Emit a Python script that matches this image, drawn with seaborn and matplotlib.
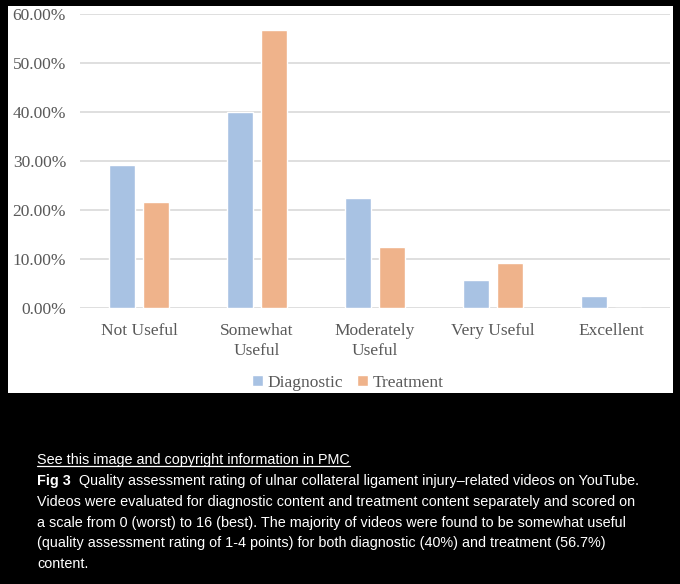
import numpy as np
import pandas as pd
import matplotlib
matplotlib.use("Agg")
import matplotlib.pyplot as plt
import seaborn as sns
from matplotlib.patches import Rectangle
from matplotlib.lines import Line2D
from matplotlib.ticker import FuncFormatter

# data (share of videos per rating)
categories = ["Not Useful", "Somewhat\nUseful", "Moderately\nUseful", "Very Useful", "Excellent"]
diagnostic = [0.292, 0.400, 0.225, 0.058, 0.025]
treatment = [0.217, 0.567, 0.125, 0.092, 0.0]
series_names = ["Diagnostic", "Treatment"]
y_ticks = [0.0, 0.1, 0.2, 0.3, 0.4, 0.5, 0.6]

caption_link = "See this image and copyright information in PMC"
caption_label = "Fig 3"
caption_lines = [
    "Quality assessment rating of ulnar collateral ligament injury\u2013related videos on YouTube.",
    "Videos were evaluated for diagnostic content and treatment content separately and scored on",
    "a scale from 0 (worst) to 16 (best). The majority of videos were found to be somewhat useful",
    "(quality assessment rating of 1-4 points) for both diagnostic (40%) and treatment (56.7%)",
    "content.",
]

df = pd.DataFrame({
    "category": categories * 2,
    "value": diagnostic + treatment,
    "series": [series_names[0]] * len(categories) + [series_names[1]] * len(categories),
})

W, H = 680, 584
BLUE = "#a8c2e3"
ORANGE = "#efb38b"
GREY = "#595959"
SERIF = "Liberation Serif"
SANS = "Liberation Sans"
CAP_SIZE = 10.4

sns.set_style("white")
fig = plt.figure(figsize=(W / 100, H / 100), dpi=100)
fig.patch.set_facecolor("black")

# white chart panel on the black page
fig.patches.append(Rectangle((8 / W, 1 - 393 / H), 665 / W, 387 / H,
                             transform=fig.transFigure, facecolor="white",
                             edgecolor="none", zorder=-5))

ax = fig.add_axes([80 / W, 1 - 308 / H, 590 / W, 294 / H])
ax.set_facecolor("none")

sns.barplot(data=df, x="category", y="value", hue="series",
            palette=[BLUE, ORANGE], width=0.58, gap=0.25, ax=ax,
            saturation=1, legend=True)

ax.set_ylim(0, 0.6)
ax.set_yticks(y_ticks)
ax.yaxis.set_major_formatter(FuncFormatter(lambda v, _: f"{v * 100:.2f}%"))
ax.grid(axis="y", color="#d9d9d9", linewidth=1.2)
ax.set_axisbelow(True)
for s in ax.spines.values():
    s.set_visible(False)
ax.tick_params(axis="both", length=0, labelsize=12.5, labelcolor=GREY)
ax.tick_params(axis="y", pad=10)
ax.tick_params(axis="x", pad=11)
for lab in ax.get_xticklabels() + ax.get_yticklabels():
    lab.set_fontfamily(SERIF)
    lab.set_linespacing(1.28)
ax.set_xlabel("")
ax.set_ylabel("")

leg = ax.legend(loc="center", bbox_to_anchor=(348 / W, 1 - 383 / H),
                bbox_transform=fig.transFigure, ncol=2, frameon=False,
                handlelength=0.6, handleheight=0.6, handletextpad=0.3,
                columnspacing=0.8, prop={"family": SERIF, "size": 12.5})
for t in leg.get_texts():
    t.set_color(GREY)

# caption below the panel
x0 = 37 / W
link = fig.text(x0, 1 - 460 / H, caption_link, color="white", fontsize=CAP_SIZE,
                family=SANS, va="center")
label = fig.text(x0, 1 - 481 / H, caption_label, color="white", fontsize=CAP_SIZE,
                 family=SANS, weight="bold", va="center")
fig.canvas.draw()
r = fig.canvas.get_renderer()
bb = link.get_window_extent(r)
fig.add_artist(Line2D([bb.x0 / W, bb.x1 / W], [(bb.y0 + 1) / H] * 2,
                      transform=fig.transFigure, color="white", linewidth=0.9))
lb = label.get_window_extent(r)
fig.text((lb.x1 + 8) / W, 1 - 481 / H, caption_lines[0], color="white",
         fontsize=CAP_SIZE, family=SANS, va="center")
for i, line in enumerate(caption_lines[1:]):
    fig.text(x0, 1 - (502 + 20.7 * i) / H, line, color="white", fontsize=CAP_SIZE,
             family=SANS, va="center")

fig.savefig("out.png", dpi=100, facecolor=fig.get_facecolor())
